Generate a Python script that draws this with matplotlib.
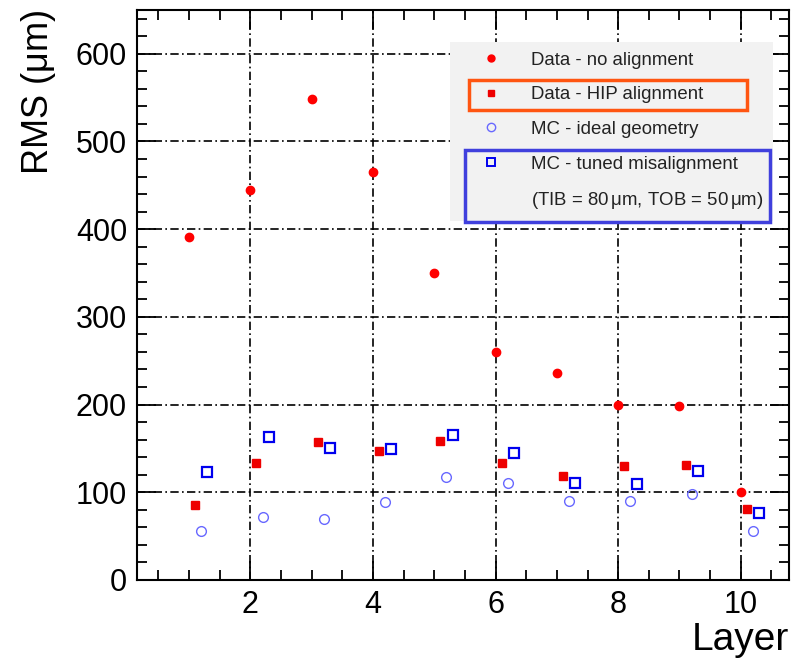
import numpy as np
import matplotlib
matplotlib.use("Agg")
from matplotlib import pyplot as plt
from matplotlib.lines import Line2D
from matplotlib.patches import Rectangle
from matplotlib.ticker import MultipleLocator

plt.rcParams["font.family"] = ["Liberation Sans", "DejaVu Sans"]
plt.rcParams["mathtext.fontset"] = "custom"
plt.rcParams["mathtext.rm"] = "Liberation Sans"
plt.rcParams["mathtext.it"] = "Liberation Sans"

layers = np.arange(1, 11)
# RMS values in micrometres
rms_no_align = [391, 445, 548, 465, 350, 260, 236, 199, 198, 100]
rms_hip = [85, 133, 157, 147, 158, 133, 118, 130, 131, 81]
rms_mc_ideal = [56, 72, 70, 89, 117, 110, 90, 90, 98, 56]
rms_mc_tuned = [123, 163, 150, 149, 165, 145, 110, 109, 124, 76]

labels = [
    "Data - no alignment",
    "Data - HIP alignment",
    "MC - ideal geometry",
    "MC - tuned misalignment",
    r"(TIB = 80$\,\mu$m, TOB = 50$\,\mu$m)",
]

fig = plt.figure(figsize=(7.91, 6.59), dpi=100)
ax = fig.add_axes([0.173, 0.12, 0.824, 0.865])

ax.plot(layers + 0.1, rms_hip, "s", color="#ee0000", ms=6, mec="#ee0000", zorder=3)
ax.plot(layers + 0.2, rms_mc_ideal, "o", mfc="none", mec="#6868ff", ms=7, mew=1.0, zorder=3)
ax.plot(layers + 0.3, rms_mc_tuned, "s", mfc="none", mec="#0000ee", ms=7.5, mew=1.6, zorder=3)
ax.plot(layers, rms_no_align, "o", color="#ff0000", ms=6, zorder=4)

ax.set_xlim(0.15, 10.78)
ax.set_ylim(0, 650)
ax.xaxis.set_major_locator(MultipleLocator(2))
ax.xaxis.set_minor_locator(MultipleLocator(0.5))
ax.yaxis.set_major_locator(MultipleLocator(100))
ax.yaxis.set_minor_locator(MultipleLocator(20))
ax.tick_params(which="both", direction="in", top=True, right=True, width=1.3,
               labelsize=22, colors="black")
ax.tick_params(which="major", length=14, pad=7)
ax.tick_params(which="minor", length=7)
for s in ax.spines.values():
    s.set_linewidth(1.5)

ax.grid(True, which="major", color="black", linewidth=1.2, dashes=(5, 2, 1, 2))
ax.set_axisbelow(False)

ax.set_ylabel(r"RMS ($\mu$m)", fontsize=26, loc="top", labelpad=13)
ax.set_xlabel("Layer", fontsize=28, loc="right", labelpad=2)

handles = [
    Line2D([], [], ls="none", marker="o", color="#ff0000", ms=5),
    Line2D([], [], ls="none", marker="s", color="#ee0000", ms=5),
    Line2D([], [], ls="none", marker="o", mfc="none", mec="#6868ff", ms=6, mew=1.0),
    Line2D([], [], ls="none", marker="s", mfc="none", mec="#0000ee", ms=6, mew=1.4),
    Line2D([], [], ls="none"),
]
leg = ax.legend(handles, labels, loc="upper left", bbox_to_anchor=(0.569, 0.936),
                bbox_transform=fig.transFigure, borderaxespad=0, fontsize=13.4,
                frameon=True, facecolor="#f2f2f2", edgecolor="none", framealpha=1,
                fancybox=False, labelspacing=0.95, handletextpad=0.45,
                borderpad=0.5, handlelength=3.4)
leg.set_zorder(5)
for t in leg.get_texts():
    t.set_color("#222222")

# highlight boxes drawn around two legend entries
fig.add_artist(Rectangle((469 / 791, 1 - 110 / 659), (747 - 469) / 791, 30 / 659,
                         transform=fig.transFigure, fill=False, ec="#ff5511", lw=2.5, zorder=6))
fig.add_artist(Rectangle((465 / 791, 1 - 222 / 659), (770 - 465) / 791, 72 / 659,
                         transform=fig.transFigure, fill=False, ec="#4040dd", lw=2.5, zorder=6))

fig.savefig("out.png", dpi=100)
